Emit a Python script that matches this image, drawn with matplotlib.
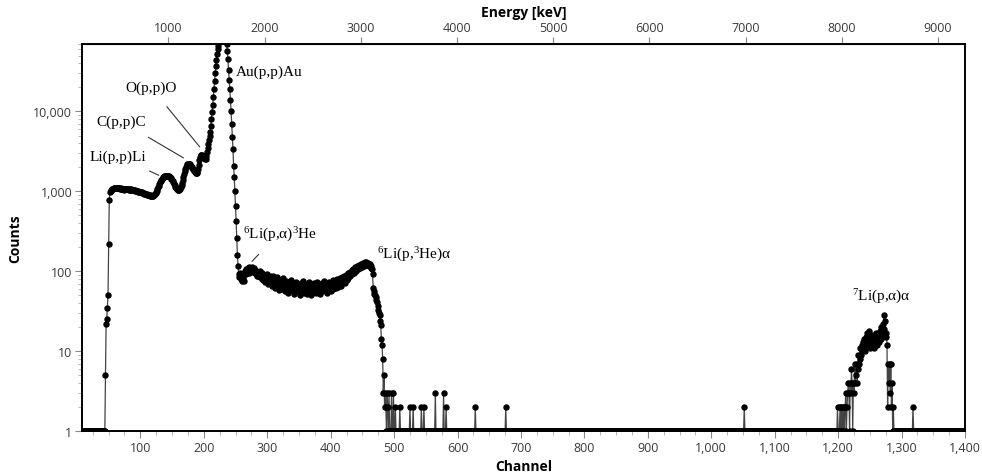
import numpy as np
import matplotlib
matplotlib.use("Agg")
import matplotlib.pyplot as plt
from matplotlib.ticker import FixedLocator, MultipleLocator, FuncFormatter, LogLocator, NullFormatter

plt.rcParams['font.family'] = ['Open Sans', 'DejaVu Sans']
plt.rcParams['mathtext.fontset'] = 'custom'
plt.rcParams['mathtext.rm'] = 'Liberation Serif'
plt.rcParams['mathtext.it'] = 'Liberation Serif:italic'

# spectrum, counts per channel (empty channels shown as 1)
first_channel = 8
last_channel = 1400
floor_count = 1

main_start = 45
main_counts = [
    5, 22, 25, 35, 50, 220, 780, 980, 1010, 1040,
    1060, 1070, 1080, 1090, 1100, 1090, 1110, 1100, 1090, 1110,
    1100, 1090, 1100, 1080, 1090, 1070, 1080, 1060, 1070, 1050,
    1080, 1070, 1080, 1060, 1070, 1060, 1070, 1050, 1060, 1050,
    1060, 1040, 1050, 1040, 1050, 1030, 1020, 1030, 1010, 1000,
    1010, 990, 1000, 980, 990, 970, 980, 960, 970, 950,
    960, 940, 930, 940, 920, 910, 920, 900, 890, 900,
    880, 890, 870, 880, 870, 880, 890, 900, 920, 950,
    980, 1020, 1070, 1120, 1180, 1240, 1300, 1350, 1400, 1440,
    1470, 1500, 1520, 1540, 1550, 1560, 1570, 1560, 1570, 1560,
    1550, 1530, 1500, 1470, 1430, 1390, 1350, 1300, 1250, 1200,
    1150, 1110, 1080, 1060, 1050, 1040, 1050, 1070, 1100, 1140,
    1200, 1280, 1380, 1500, 1640, 1780, 1920, 2040, 2130, 2180,
    2200, 2220, 2210, 2190, 2150, 2100, 2040, 1970, 1900, 1840,
    1790, 1750, 1720, 1700, 1710, 1760, 1900, 2150, 2450, 2700,
    2820, 2870, 2860, 2800, 2750, 2700, 2600, 2520, 2560, 2750,
    3100, 3500, 3900, 4400, 4900, 5600, 6600, 8000, 9800, 12000,
    15000, 19000, 24000, 30000, 37000, 44000, 52000, 60000, 67000, 75000,
    83000, 91000, 98000, 104000, 108000, 110000, 108000, 104000, 97000, 89000,
    80000, 70000, 58000, 45000, 33000, 25000, 19000, 14000, 10000, 7000,
    4800, 3400, 2100, 1500, 1000, 650, 420, 260, 160, 115,
    92, 84, 96, 80, 88, 75, 90, 82, 76, 94,
    100, 92, 106, 98, 110, 104, 96, 112, 102, 108,
    100, 114, 106, 98, 110, 96, 104, 92, 100, 88,
    98, 86, 94, 102, 84, 92, 80, 96, 88, 78,
    90, 82, 74, 86, 92, 76, 84, 70, 80, 88,
    72, 82, 66, 78, 86, 70, 76, 62, 80, 68,
    74, 84, 64, 72, 58, 78, 68, 76, 60, 70,
    82, 64, 72, 56, 68, 76, 62, 70, 54, 66,
    74, 60, 68, 78, 58, 64, 72, 52, 66, 70,
    60, 74, 56, 66, 62, 70, 50, 64, 72, 58,
    68, 62, 76, 54, 66, 60, 70, 64, 52, 68,
    62, 74, 58, 66, 50, 70, 60, 64, 56, 72,
    62, 68, 54, 66, 74, 58, 64, 70, 52, 66,
    60, 72, 56, 68, 62, 76, 58, 66, 70, 54,
    68, 62, 74, 60, 70, 56, 72, 64, 78, 60,
    70, 66, 76, 62, 72, 80, 64, 74, 68, 82,
    70, 78, 66, 84, 74, 80, 88, 72, 82, 90,
    78, 86, 94, 82, 90, 98, 86, 96, 104, 92,
    100, 108, 96, 104, 112, 100, 110, 118, 106, 114,
    120, 110, 118, 124, 114, 122, 128, 118, 126, 130,
    124, 132, 126, 120, 128, 122, 116, 124, 110, 118,
    108, 92, 62, 56, 52, 50, 48, 44, 41, 37,
    33, 30, 28, 24, 21, 14, 12, 8, 3, 5,
    2, 3, 2, 1, 3, 2,
]

spike_channels = [492, 496, 499, 502, 509, 525, 530, 543, 547, 565, 578, 582, 628, 676, 1052, 1318]
spike_counts = [3, 3, 3, 2, 2, 2, 2, 2, 2, 3, 3, 2, 2, 2, 2, 2]

li7_start = 1196
li7_counts = [
    1, 1, 1, 2, 1, 1, 1, 2, 1, 2,
    1, 2, 1, 2, 1, 2, 3, 1, 2, 3,
    4, 3, 1, 4, 3, 6, 4, 1, 4, 3,
    7, 4, 5, 7, 4, 6, 9, 7, 8, 11,
    9, 12, 10, 13, 11, 14, 12, 10, 15, 13,
    17, 12, 14, 18, 13, 11, 15, 12, 16, 14,
    11, 13, 15, 12, 17, 14, 12, 16, 13, 15,
    18, 14, 20, 16, 22, 18, 28, 19, 24, 15,
    17, 12, 2, 7, 4, 7, 3, 7, 2, 4,
    1, 2, 1,
]

x_ticks = list(range(100, 1401, 100))
y_ticks = [1, 10, 100, 1000, 10000]
energy_ticks = list(range(1000, 9001, 1000))

# energy calibration, keV per channel
kev_per_channel = 6.594
kev_offset = 49.0

channels = np.arange(first_channel, last_channel + 1)
counts = np.full(channels.size, floor_count, dtype=float)
counts[main_start - first_channel:main_start - first_channel + len(main_counts)] = main_counts
counts[li7_start - first_channel:li7_start - first_channel + len(li7_counts)] = li7_counts
counts[np.array(spike_channels) - first_channel] = spike_counts

fig = plt.figure(figsize=(9.82, 4.77), dpi=100)
ax = fig.add_axes([0.0835, 0.0943, 0.8992, 0.8114])

ax.plot(channels, counts, color='#444444', lw=0.9, marker='o', ms=3.6,
        mfc='black', mec='black', zorder=3)

ax.set_yscale('log')
ax.set_xlim(first_channel, last_channel)
ax.set_ylim(1, 70000)

tick_color = '#3a3a3a'
ax.xaxis.set_major_locator(FixedLocator(x_ticks))
ax.xaxis.set_minor_locator(MultipleLocator(25))
ax.xaxis.set_major_formatter(FuncFormatter(lambda v, p: f"{v:,.0f}"))
ax.yaxis.set_major_locator(FixedLocator(y_ticks))
ax.yaxis.set_minor_locator(LogLocator(base=10, subs=np.arange(2, 10)))
ax.yaxis.set_minor_formatter(NullFormatter())
ax.yaxis.set_major_formatter(FuncFormatter(lambda v, p: f"{v:,.0f}"))
ax.tick_params(axis='both', which='major', direction='out', length=5, width=0.8,
               color='#888888', labelsize=9, labelcolor=tick_color, pad=2)
ax.tick_params(axis='both', which='minor', direction='out', length=3, width=0.6,
               color='#aaaaaa')
for s in ax.spines.values():
    s.set_linewidth(1.4)
    s.set_color('black')

ax.set_xlabel('Channel', fontsize=10, fontweight='bold', labelpad=4)
ax.set_ylabel('Counts', fontsize=10, fontweight='bold', labelpad=8)

sec = ax.secondary_xaxis('top', functions=(lambda c: kev_per_channel * c + kev_offset,
                                            lambda e: (e - kev_offset) / kev_per_channel))
sec.xaxis.set_major_locator(FixedLocator(energy_ticks))
sec.xaxis.set_major_formatter(FuncFormatter(lambda v, p: f"{v:.0f}"))
sec.tick_params(axis='x', which='major', direction='out', length=5, width=0.8,
                color='#888888', labelsize=9, labelcolor=tick_color, pad=2)
sec.tick_params(axis='x', which='minor', length=0)
sec.set_xlabel('Energy [keV]', fontsize=10, fontweight='bold', labelpad=4)

serif = dict(family='Liberation Serif', fontsize=11, color='black')
line_kw = dict(arrowstyle='-', color='#333333', lw=0.8)
ax.text(251, 31600, 'Au(p,p)Au', ha='left', va='center', **serif)
ax.annotate('O(p,p)O', xy=(193.5, 3610), xytext=(117, 20000), ha='center', va='center',
            arrowprops=dict(**line_kw, shrinkA=9, shrinkB=0), **serif)
ax.annotate('C(p,p)C', xy=(168, 2625), xytext=(70, 7500), ha='center', va='center',
            arrowprops=dict(**line_kw, shrinkA=9, shrinkB=0), **serif)
ax.annotate('Li(p,p)Li', xy=(129, 1590), xytext=(64, 2750), ha='center', va='center',
            arrowprops=dict(**line_kw, shrinkA=9, shrinkB=0), **serif)
ax.annotate(r'$^{6}$Li(p,α)$^{3}$He', xy=(276, 133), xytext=(262, 290), ha='left', va='center',
            arrowprops=dict(**line_kw, shrinkA=8, shrinkB=0, relpos=(0.35, 0.0)), **serif)
ax.text(473, 164, r'$^{6}$Li(p,$^{3}$He)α', ha='left', va='center', **serif)
ax.text(1222, 49, r'$^{7}$Li(p,α)α', ha='left', va='center', **serif)

fig.savefig('out.png', dpi=100)
